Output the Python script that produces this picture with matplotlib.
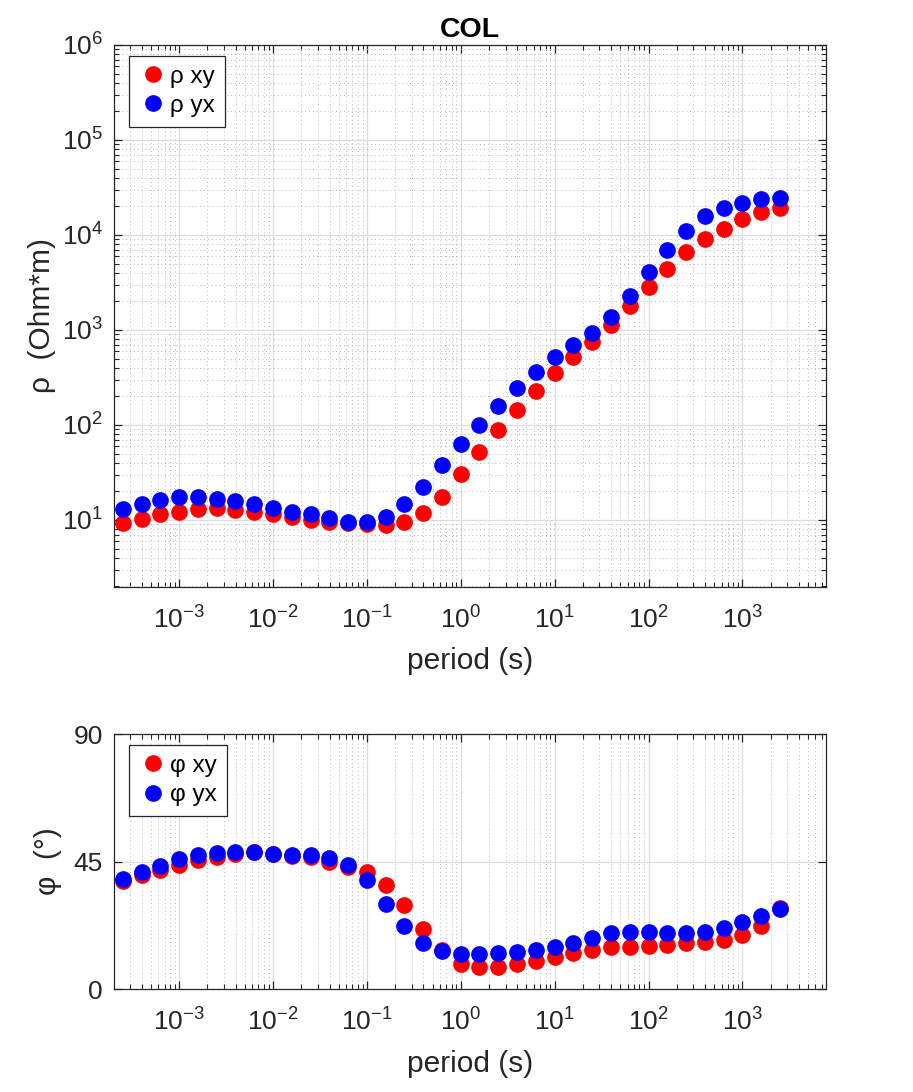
import matplotlib
matplotlib.use("Agg")
import matplotlib.pyplot as plt
from matplotlib.ticker import LogLocator, NullFormatter

plt.rcParams["font.family"] = ["Liberation Sans", "DejaVu Sans"]
plt.rcParams["mathtext.default"] = "regular"
plt.rcParams["axes.unicode_minus"] = False
plt.rcParams["font.size"] = 18

# periods (s)
period = [2.51e-4, 3.98e-4, 6.31e-4, 1.0e-3, 1.58e-3, 2.51e-3, 3.98e-3, 6.31e-3,
          1.0e-2, 1.58e-2, 2.51e-2, 3.98e-2, 6.31e-2, 1.0e-1, 1.58e-1, 2.51e-1,
          3.98e-1, 6.31e-1, 1.0, 1.58, 2.51, 3.98, 6.31, 10.0, 15.8, 25.1, 39.8,
          63.1, 100.0, 158.0, 251.0, 398.0, 631.0, 1000.0, 1585.0, 2512.0]

# apparent resistivity (Ohm*m)
rho_xy = [9.2, 10.3, 11.5, 12.2, 13.0, 13.3, 12.7, 12.0, 11.6, 10.8, 10.0, 9.4,
          9.2, 9.1, 8.9, 9.5, 11.8, 17.3, 30.3, 52.4, 87.9, 144, 226, 350, 516,
          743, 1119, 1774, 2813, 4355, 6577, 9020, 11480, 14630, 17330, 19100]
rho_yx = [13.0, 14.6, 16.3, 17.3, 17.3, 16.8, 15.7, 14.6, 13.3, 12.2, 11.5, 10.4,
          9.6, 9.4, 10.7, 14.6, 22.4, 37.9, 62.7, 99, 157, 243, 359, 516, 690,
          922, 1361, 2265, 4045, 6900, 10940, 15740, 19100, 21570, 23770, 24300]

# phase (deg)
phi_xy = [38.2, 40.2, 42.0, 43.8, 45.5, 46.7, 47.6, 48.3, 47.8, 47.0, 46.5, 44.9,
          43.2, 41.2, 36.6, 29.8, 21.2, 13.9, 9.0, 7.6, 7.9, 8.8, 10.0, 11.4,
          12.6, 13.9, 14.9, 14.9, 15.1, 15.7, 16.1, 16.5, 17.3, 18.9, 22.1, 28.6]
phi_yx = [38.7, 41.2, 43.5, 45.8, 47.3, 48.0, 48.4, 48.4, 47.8, 47.4, 47.2, 46.1,
          43.8, 38.4, 30.1, 22.1, 16.3, 13.5, 12.3, 12.3, 12.7, 13.2, 13.9, 14.9,
          16.3, 18.0, 19.8, 20.3, 20.3, 19.8, 19.8, 20.3, 21.6, 23.8, 25.8, 28.2]

x_ticks = [1e-3, 1e-2, 1e-1, 1e0, 1e1, 1e2, 1e3]
rho_ticks = [1e1, 1e2, 1e3, 1e4, 1e5, 1e6]
phi_ticks = [0, 45, 90]

dark = "#262626"
ms = 11
label_fs = 21.5

fig = plt.figure(figsize=(9.13, 10.92), dpi=100)
ax1 = fig.add_axes([0.1249, 0.4625, 0.7798, 0.4963])
ax2 = fig.add_axes([0.1249, 0.0943, 0.7798, 0.2335])


def style(ax):
    for s in ax.spines.values():
        s.set_color(dark)
        s.set_linewidth(0.9)
    ax.tick_params(which="both", direction="in", top=True, right=True,
                   colors=dark, labelcolor=dark, labelsize=19)
    ax.tick_params(which="major", length=6, width=0.9)
    ax.tick_params(which="minor", length=3.5, width=0.8)
    ax.tick_params(axis="x", which="major", pad=14)
    ax.tick_params(axis="y", which="major", pad=8)
    ax.set_xscale("log")
    ax.set_xlim(10 ** -3.693, 10 ** 3.89)
    ax.set_xticks(x_ticks)
    ax.xaxis.set_minor_locator(LogLocator(base=10, subs=range(2, 10), numticks=20))
    ax.xaxis.set_minor_formatter(NullFormatter())
    ax.grid(True, which="major", color="#dcdcdc", linewidth=0.9)
    ax.set_axisbelow(True)


# top: resistivity
style(ax1)
ax1.set_yscale("log")
ax1.set_ylim(1.97, 1e6)
ax1.set_yticks(rho_ticks)
ax1.yaxis.set_minor_locator(LogLocator(base=10, subs=range(2, 10), numticks=20))
ax1.yaxis.set_minor_formatter(NullFormatter())
ax1.grid(True, which="minor", color="#b8b8b8", linestyle=(0, (1, 3)), linewidth=0.7)
ax1.plot(period, rho_xy, "o", color="red", markersize=ms, label="ρ xy")
ax1.plot(period, rho_yx, "o", color="blue", markersize=ms, label="ρ yx")
ax1.set_xlabel("period (s)", fontsize=label_fs, color=dark, labelpad=10)
ax1.set_ylabel("ρ  (Ohm*m)", fontsize=label_fs, color=dark, labelpad=4)
ax1.set_title("COL", fontsize=20.5, fontweight="bold", pad=6)
leg1 = ax1.legend(loc="upper left", fontsize=17.5, frameon=True, fancybox=False,
                  handletextpad=0.1, handlelength=1.2, borderpad=0.4,
                  labelspacing=0.3, borderaxespad=0,
                  bbox_to_anchor=(0.021, 0.98))
leg1.get_frame().set_edgecolor(dark)
leg1.get_frame().set_linewidth(0.9)
leg1.get_frame().set_alpha(1)

# bottom: phase
style(ax2)
ax2.set_ylim(0, 90)
ax2.set_yticks(phi_ticks)
ax2.grid(True, which="minor", axis="x", color="#b8b8b8", linestyle=(0, (1, 3)), linewidth=0.7)
ax2.plot(period, phi_xy, "o", color="red", markersize=ms, label="φ xy")
ax2.plot(period, phi_yx, "o", color="blue", markersize=ms, label="φ yx")
ax2.set_xlabel("period (s)", fontsize=label_fs, color=dark, labelpad=10)
ax2.set_ylabel("φ  (°)", fontsize=label_fs, color=dark, labelpad=8)
leg2 = ax2.legend(loc="upper left", fontsize=17.5, frameon=True, fancybox=False,
                  handletextpad=0.1, handlelength=1.2, borderpad=0.4,
                  labelspacing=0.3, borderaxespad=0,
                  bbox_to_anchor=(0.021, 0.957))
leg2.get_frame().set_edgecolor(dark)
leg2.get_frame().set_linewidth(0.9)
leg2.get_frame().set_alpha(1)

fig.savefig("out.png", dpi=100)
